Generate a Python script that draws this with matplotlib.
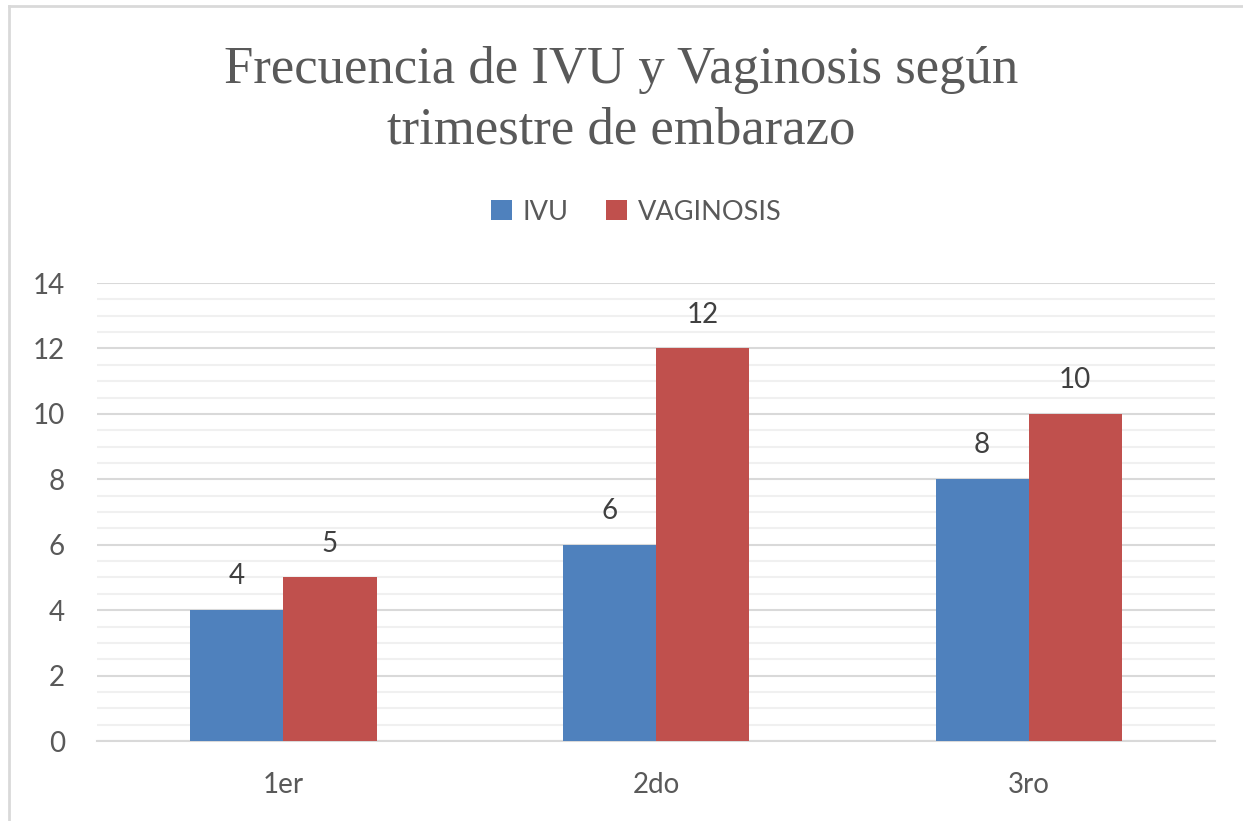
import matplotlib.pyplot as plt
from matplotlib.lines import Line2D
from matplotlib.ticker import MultipleLocator
import numpy as np

# data
trimestres = ['1er', '2do', '3ro']
ivu = [4, 6, 8]
vaginosis = [5, 12, 10]
series_names = ['IVU', 'VAGINOSIS']
colors = ['#4f81bd', '#c0504d']
text_color = '#595959'

plt.rcParams['font.family'] = ['Lato', 'DejaVu Sans']

fig = plt.figure(figsize=(12.43, 8.21), dpi=100)
ax = fig.add_axes([97 / 1243, 80 / 821, (1215 - 97) / 1243, (741 - 283) / 821])

# outer chart border (only top and left visible in the crop)
fig.add_artist(Line2D([9 / 1243, 1], [1 - 6 / 821, 1 - 6 / 821], color='#d9d9d9', lw=2))
fig.add_artist(Line2D([9 / 1243, 9 / 1243], [0, 1 - 6 / 821], color='#d9d9d9', lw=2))

x = np.arange(len(trimestres))
w = 0.25
b1 = ax.bar(x - w / 2, ivu, w, color=colors[0], label=series_names[0], zorder=3)
b2 = ax.bar(x + w / 2, vaginosis, w, color=colors[1], label=series_names[1], zorder=3)

for bars in (b1, b2):
    ax.bar_label(bars, padding=15, fontsize=20, color='#404040')

ax.set_xlim(-0.5, 2.5)
ax.set_ylim(0, 14)
ax.yaxis.set_major_locator(MultipleLocator(2))
ax.yaxis.set_minor_locator(MultipleLocator(0.5))
ax.grid(axis='y', which='major', color='#d9d9d9', lw=1.5, zorder=0)
ax.grid(axis='y', which='minor', color='#f0f0f0', lw=1.5, zorder=0)
ax.set_axisbelow(True)

ax.set_xticks(x)
ax.set_xticklabels(trimestres)
ax.tick_params(axis='x', length=0, pad=22, labelsize=20, labelcolor=text_color)
ax.tick_params(axis='y', which='both', length=0, pad=23, labelsize=20, labelcolor=text_color)

for s in ['top', 'right', 'left']:
    ax.spines[s].set_visible(False)
ax.spines['bottom'].set_color('#d9d9d9')
ax.spines['bottom'].set_linewidth(1.5)

fig.text(0.5, 1 - 100 / 821, 'Frecuencia de IVU y Vaginosis según\ntrimestre de embarazo',
         ha='center', va='center', fontsize=38, color=text_color,
         family=['Liberation Serif', 'DejaVu Serif'], linespacing=1.35)

fig.legend(loc='center', bbox_to_anchor=(0.512, 1 - 212 / 821), ncol=2, frameon=False,
           fontsize=19.5, labelcolor=text_color, handlelength=0.75, handleheight=0.75,
           handletextpad=0.4, columnspacing=1.4)

fig.savefig('out.png', dpi=100)
